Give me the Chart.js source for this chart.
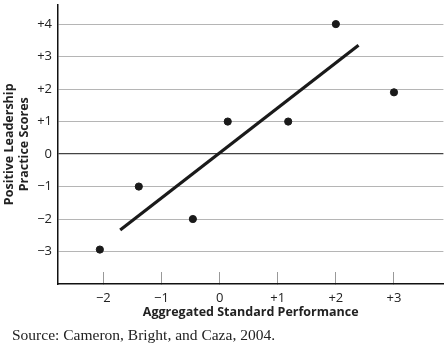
<!DOCTYPE html>
<html>
<head>
<meta charset="utf-8">
<script src="https://cdn.jsdelivr.net/npm/chart.js@4.4.1/dist/chart.umd.min.js"></script>
<style>
  html, body { margin: 0; padding: 0; background: #fff; }
  #wrap { position: relative; width: 448px; height: 345px; }
  #grafica { display: block; }
  #source {
    position: absolute; left: 12px; top: 327px;
    font-family: "Liberation Serif", serif; font-size: 15.5px; line-height: 15.5px;
    color: #222; white-space: nowrap;
  }
</style>
</head>
<body>
<div id="wrap">
  <canvas id="grafica" width="448" height="345"></canvas>
  <div id="source">Source: Cameron, Bright, and Caza, 2004.</div>
</div>
<script>
// valores de cada unidad
const rendimiento = [-2.06, -1.39, -0.46, 0.14, 1.18, 2.0, 3.0];
const liderazgo = [-2.94, -1.0, -2.0, 1.0, 1.0, 4.0, 1.9];

// recta de tendencia (extremos)
const tendenciaX = [-1.71, 2.39];
const tendenciaY = [-2.34, 3.35];

const ticksX = [-2, -1, 0, 1, 2, 3];
const ticksY = [-3, -2, -1, 0, 1, 2, 3, 4];

function etiqueta(v) {
  if (v > 0) return "+" + v;
  if (v < 0) return "\u2212" + Math.abs(v);
  return "0";
}

const fuente = '"Open Sans", "DejaVu Sans", sans-serif';

new Chart(document.getElementById("grafica"), {
  type: "scatter",
  data: {
    datasets: [
      {
        label: "Unidades",
        data: rendimiento.map((x, i) => ({ x: x, y: liderazgo[i] })),
        backgroundColor: "#1a1a1a",
        borderColor: "#1a1a1a",
        pointRadius: 3.6,
        pointHoverRadius: 3.6
      },
      {
        label: "Tendencia",
        type: "line",
        data: tendenciaX.map((x, i) => ({ x: x, y: tendenciaY[i] })),
        borderColor: "#1a1a1a",
        borderWidth: 3.2,
        pointRadius: 0,
        fill: false
      }
    ]
  },
  options: {
    responsive: false,
    animation: false,
    layout: { padding: { top: 2, right: 2, left: 0, bottom: 25 } },
    plugins: {
      legend: { display: false },
      tooltip: { enabled: false }
    },
    scales: {
      x: {
        type: "linear",
        min: -2.78,
        max: 3.85,
        afterBuildTicks: s => { s.ticks = ticksX.map(v => ({ value: v })); },
        afterFit: s => { s.height = 36; s.paddingLeft = 0; s.paddingRight = 0; },
        border: { color: "#111", width: 1.5 },
        grid: {
          drawOnChartArea: false,
          drawTicks: true,
          tickLength: -12,
          color: "#999",
          lineWidth: 1
        },
        ticks: {
          padding: 18,
          color: "#222",
          font: { family: fuente, size: 13 },
          callback: v => etiqueta(v)
        },
        title: {
          display: true,
          text: "Aggregated Standard Performance",
          color: "#222",
          font: { family: fuente, size: 12.5, weight: "bold" },
          padding: { top: 0, bottom: 0 }
        }
      },
      y: {
        type: "linear",
        min: -4,
        max: 4.6,
        afterBuildTicks: s => { s.ticks = ticksY.map(v => ({ value: v })); },
        afterFit: s => { s.width = 58; s.paddingTop = 0; s.paddingBottom = 0; },
        border: { color: "#111", width: 1.5 },
        grid: {
          drawTicks: false,
          color: c => (c.tick && c.tick.value === 0 ? "#444" : "#b5b5b5"),
          lineWidth: c => (c.tick && c.tick.value === 0 ? 1.2 : 1)
        },
        ticks: {
          padding: 6,
          color: "#222",
          font: { family: fuente, size: 13 },
          callback: v => etiqueta(v)
        },
        title: {
          display: true,
          text: ["Positive Leadership", "Practice Scores"],
          color: "#222",
          font: { family: fuente, size: 12.5, weight: "bold", lineHeight: 1.2 },
          padding: { top: 2, bottom: 0 }
        }
      }
    }
  }
});
</script>
</body>
</html>
